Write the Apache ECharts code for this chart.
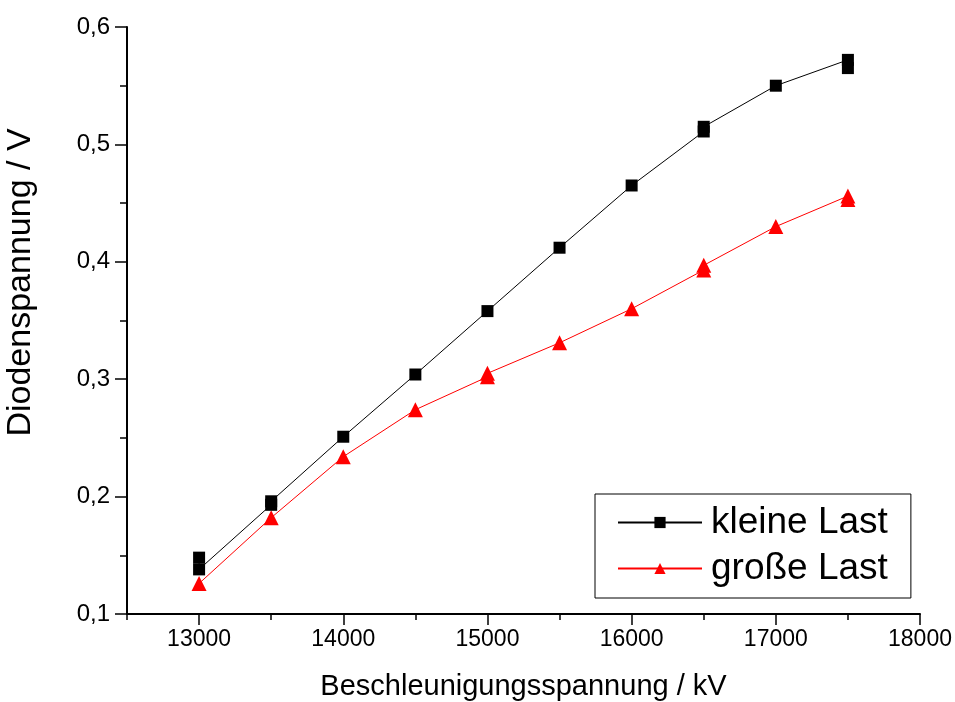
<!DOCTYPE html>
<html>
<head>
<meta charset="utf-8">
<script src="https://cdn.jsdelivr.net/npm/echarts@6/dist/echarts.min.js"></script>
<style>
  html, body { margin: 0; padding: 0; background: #fff; }
  #chart { width: 955px; height: 702px; }
</style>
</head>
<body>
<div id="chart"></div>
<script>
// Measurements: accelerating voltage (kV) vs. diode voltage (V); repeated readings share an x value
const kleineX = [13000, 13000, 13500, 13500, 14000, 14500, 15000, 15500, 16000, 16500, 16500, 17000, 17500, 17500];
const kleineY = [0.148, 0.138, 0.193, 0.196, 0.251, 0.304, 0.358, 0.412, 0.465, 0.511, 0.515, 0.550, 0.572, 0.565];
const grosseX = [13000, 13500, 14000, 14500, 15000, 15000, 15500, 16000, 16500, 16500, 17000, 17500, 17500];
const grosseY = [0.126, 0.182, 0.234, 0.274, 0.302, 0.305, 0.331, 0.360, 0.393, 0.397, 0.430, 0.456, 0.453];
const xTickLabels = [13000, 14000, 15000, 16000, 17000, 18000];
const yTickLabels = [0.1, 0.2, 0.3, 0.4, 0.5, 0.6];

const font = 'Liberation Sans, Arial, sans-serif';
const pairs = (xs, ys) => xs.map((x, i) => [x, ys[i]]);

const chart = echarts.init(document.getElementById('chart'), null, { renderer: 'canvas' });
chart.setOption({
  animation: false,
  backgroundColor: '#fff',
  textStyle: { fontFamily: font },
  grid: { left: 127, right: 35, top: 27, bottom: 88, containLabel: false, outerBoundsMode: 'none' },
  legend: {
    orient: 'vertical',
    left: 595,
    top: 494,
    padding: [10, 23, 11, 22],
    itemGap: 9,
    itemWidth: 84,
    itemHeight: 14,
    borderColor: '#000',
    borderWidth: 1,
    backgroundColor: '#fff',
    textStyle: { fontSize: 37, color: '#000', fontFamily: font, padding: [0, 0, 0, 4] },
    data: ['kleine Last', 'große Last']
  },
  xAxis: [
    {
      type: 'value',
      min: 12500, max: 18000, interval: 500,
      name: 'Beschleunigungsspannung / kV',
      nameLocation: 'middle', nameGap: 58,
      nameTextStyle: { fontSize: 29, color: '#000', fontFamily: font },
      axisLine: { onZero: false, lineStyle: { color: '#000', width: 2 } },
      axisTick: { inside: false, length: 6, lineStyle: { color: '#000', width: 1.5 } },
      axisLabel: { show: false },
      splitLine: { show: false }
    },
    {
      type: 'value',
      position: 'bottom',
      min: 12500, max: 18000,
      axisLine: { show: false, onZero: false },
      axisTick: { inside: false, length: 11, customValues: xTickLabels, lineStyle: { color: '#000', width: 1.5 } },
      axisLabel: {
        customValues: xTickLabels, fontSize: 23, color: '#000', margin: 14, fontFamily: font,
        formatter: v => String(v)
      },
      splitLine: { show: false }
    }
  ],
  yAxis: [
    {
      type: 'value',
      min: 0.1, max: 0.6, interval: 0.05,
      name: 'Diodenspannung / V',
      nameLocation: 'middle', nameGap: 89, nameRotate: 90,
      nameTextStyle: { fontSize: 34, color: '#000', fontFamily: font, padding: [0, 0, 0, 76] },
      axisLine: { onZero: false, lineStyle: { color: '#000', width: 2 } },
      axisTick: { inside: false, length: 7, lineStyle: { color: '#000', width: 1.5 } },
      axisLabel: { show: false },
      splitLine: { show: false }
    },
    {
      type: 'value',
      position: 'left',
      min: 0.1, max: 0.6,
      axisLine: { show: false, onZero: false },
      axisTick: { inside: false, length: 12, customValues: yTickLabels, lineStyle: { color: '#000', width: 1.5 } },
      axisLabel: {
        customValues: yTickLabels, fontSize: 24, color: '#000', margin: 17, fontFamily: font,
        formatter: v => v.toFixed(1).replace('.', ',')
      },
      splitLine: { show: false }
    }
  ],
  series: [
    {
      name: 'kleine Last',
      type: 'line',
      xAxisIndex: 0, yAxisIndex: 0,
      data: pairs(kleineX, kleineY),
      symbol: 'rect',
      symbolSize: 12,
      showAllSymbol: true,
      itemStyle: { color: '#000' },
      lineStyle: { color: '#000', width: 1 },
      z: 3
    },
    {
      name: 'große Last',
      type: 'line',
      xAxisIndex: 0, yAxisIndex: 0,
      data: pairs(grosseX, grosseY),
      symbol: 'triangle',
      symbolSize: [15, 15],
      showAllSymbol: true,
      itemStyle: { color: '#ff0000' },
      lineStyle: { color: '#ff0000', width: 1 },
      z: 2
    }
  ]
});
</script>
</body>
</html>
